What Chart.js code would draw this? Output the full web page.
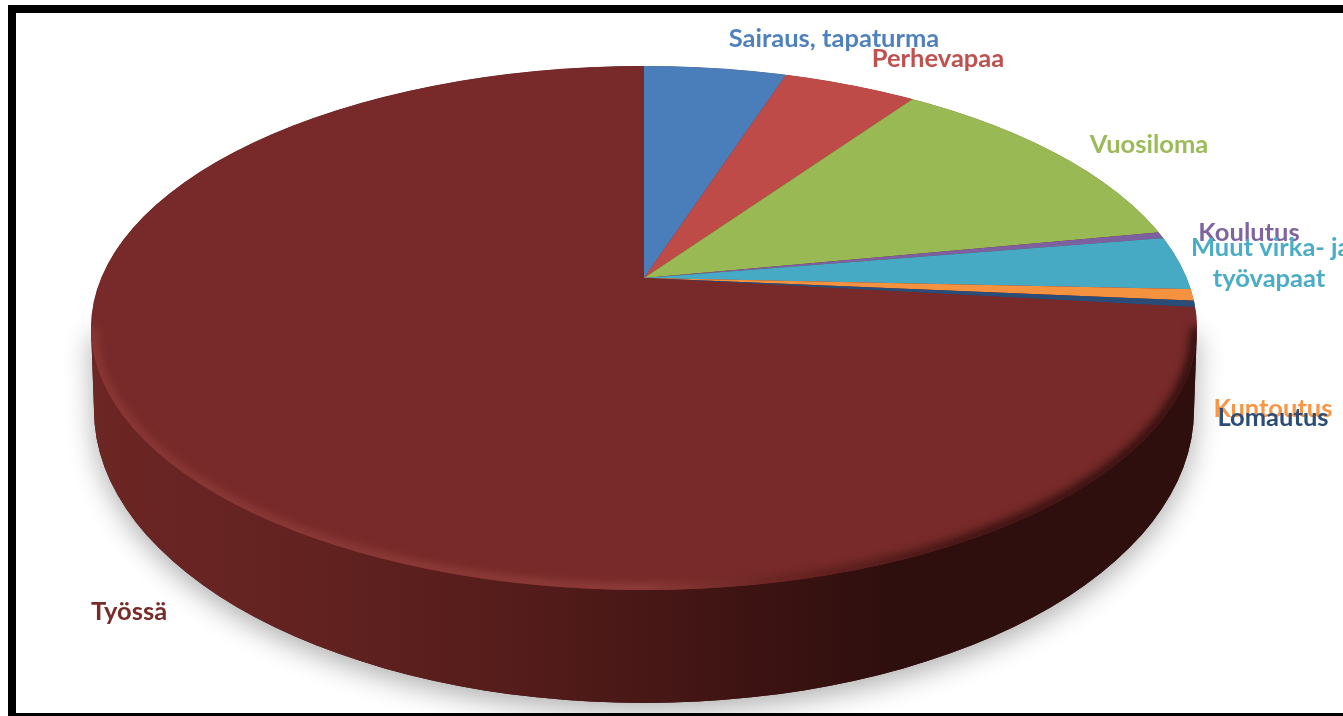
<!DOCTYPE html>
<html>
<head>
<meta charset="utf-8">
<title>Työaika</title>
<script src="https://cdn.jsdelivr.net/npm/chart.js@4"></script>
<style>
    html, body { margin: 0; padding: 0; background: #fff; width: 1343px; height: 716px; overflow: hidden; }
    #frame { position: absolute; left: 8px; top: 5px; width: 1400px; height: 700px; border: 8px solid #000; }
    #pie { position: absolute; left: 0; top: 0; }
</style>
</head>
<body>
<div id="frame"></div>
<canvas id="pie" width="1343" height="716"></canvas>
<script>
// Chart data (percent of the total)
const categories = ['Sairaus, tapaturma', 'Perhevapaa', 'Vuosiloma', 'Koulutus', 'Muut virka- ja työvapaat', 'Kuntoutus', 'Lomautus', 'Työssä'];
const shares = [5.0, 4.7, 12.3, 0.4, 3.3, 0.7, 0.4, 73.2];

const sliceColors = ['#4a7ebb', '#be4b48', '#98b954', '#7d60a0', '#46aac5', '#f59240', '#2a4d77', '#772a29'];
const labelColors = ['#4f81bd', '#c0504d', '#9bbb59', '#8064a2', '#4bacc6', '#f79646', '#2c4d75', '#772c2a'];

// Where each label sits: lines of text, x, y, alignment
const labelSpots = [
    [['Sairaus, tapaturma'], 834, 39, 'center'],
    [['Perhevapaa'], 938, 59, 'center'],
    [['Vuosiloma'], 1149, 145, 'center'],
    [['Koulutus'], 1249, 233, 'center'],
    [['Muut virka- ja'], 1191, 248, 'left'],
    [['työvapaat'], 1269, 279, 'center'],
    [['Kuntoutus'], 1273, 409, 'center'],
    [['Lomautus'], 1273, 418, 'center'],
    [['Työssä'], 129, 612, 'center']
];

// Outline of the tilted disc
const topFace = { x: 644, y: 328, rx: 553, ry: 262 };
const bottomFace = { x: 644, y: 410, rx: 550, ry: 293 };
const tilt = 0.465;

function wallPath(ctx) {
    ctx.beginPath();
    ctx.moveTo(topFace.x - topFace.rx, topFace.y);
    ctx.lineTo(bottomFace.x - bottomFace.rx, bottomFace.y);
    ctx.ellipse(bottomFace.x, bottomFace.y, bottomFace.rx, bottomFace.ry, 0, Math.PI, 0, true);
    ctx.lineTo(topFace.x + topFace.rx, topFace.y);
    ctx.closePath();
}

function topPath(ctx) {
    ctx.beginPath();
    ctx.ellipse(topFace.x, topFace.y, topFace.rx, topFace.ry, 0, 0, Math.PI * 2);
}

const tiltedDisc = {
    id: 'tiltedDisc',
    beforeDatasetsDraw(chart) {
        const ctx = chart.ctx;
        const apex = chart.getDatasetMeta(0).data[0];

        // Soft shadow on the ground
        ctx.save();
        ctx.shadowColor = 'rgba(0, 0, 0, 0.32)';
        ctx.shadowBlur = 28;
        ctx.shadowOffsetY = 8;
        wallPath(ctx);
        ctx.fillStyle = '#3a1211';
        ctx.fill();
        ctx.restore();

        // Side wall
        const wall = ctx.createLinearGradient(90, 0, 1197, 0);
        wall.addColorStop(0, '#6c2624');
        wall.addColorStop(0.2, '#622220');
        wall.addColorStop(0.4, '#531c1a');
        wall.addColorStop(0.58, '#3f1413');
        wall.addColorStop(0.72, '#2f0f0e');
        wall.addColorStop(1, '#2f0f0e');
        wallPath(ctx);
        ctx.fillStyle = wall;
        ctx.fill();

        // Top face: the slices come from the library, squashed and cut to the outline
        ctx.save();
        topPath(ctx);
        ctx.clip();
        ctx.fillStyle = sliceColors[7];
        ctx.fill();
        ctx.translate(apex.x, apex.y);
        ctx.scale(1, tilt);
        ctx.translate(-apex.x, -apex.y);
    },
    afterDatasetsDraw(chart) {
        const ctx = chart.ctx;
        ctx.restore();

        // Bevel along the rim
        const rim = ctx.createLinearGradient(90, 0, 1197, 0);
        rim.addColorStop(0, '#8a3835');
        rim.addColorStop(0.5, '#8f3d3a');
        rim.addColorStop(0.62, '#682422');
        rim.addColorStop(0.8, '#3a1211');
        rim.addColorStop(1, '#2f0f0e');
        ctx.save();
        topPath(ctx);
        ctx.clip();
        ctx.filter = 'blur(4px)';
        ctx.beginPath();
        ctx.ellipse(topFace.x, topFace.y, topFace.rx - 1, topFace.ry - 1, 0, 0, Math.PI);
        ctx.strokeStyle = rim;
        ctx.lineWidth = 11;
        ctx.stroke();
        ctx.restore();
    },
    afterDraw(chart) {
        const ctx = chart.ctx;
        ctx.save();
        ctx.font = 'bold 25.5px Lato, "Open Sans", sans-serif';
        ctx.textBaseline = 'middle';
        ctx.filter = 'blur(0.5px)';
        labelSpots.forEach((spot, i) => {
            const colorIndex = i > 4 ? i - 1 : i;
            ctx.fillStyle = labelColors[colorIndex];
            ctx.textAlign = spot[3];
            ctx.fillText(spot[0][0], spot[1], spot[2]);
        });
        ctx.restore();
    }
};

new Chart(document.getElementById('pie').getContext('2d'), {
    type: 'pie',
    data: {
        labels: categories,
        datasets: [{
            data: shares,
            backgroundColor: sliceColors,
            borderWidth: 0,
            clip: false
        }]
    },
    options: {
        responsive: false,
        animation: false,
        radius: 900,
        layout: { padding: { left: 0, top: 0, right: 55, bottom: 160 } },
        plugins: {
            legend: { display: false },
            tooltip: { enabled: false }
        }
    },
    plugins: [tiltedDisc]
});
</script>
</body>
</html>
